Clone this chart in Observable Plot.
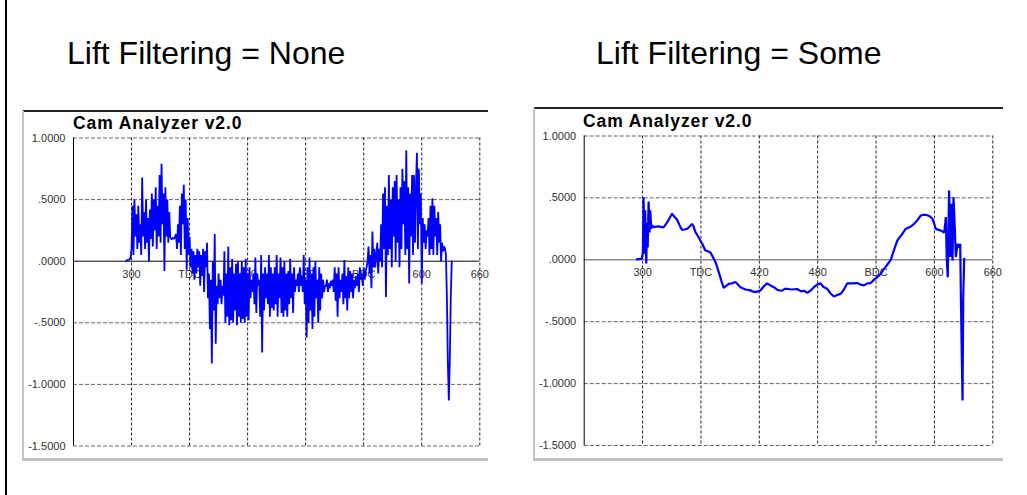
<!DOCTYPE html>
<html>
<head>
<meta charset="utf-8">
<script src="https://cdn.jsdelivr.net/npm/d3@7"></script>
<script src="https://cdn.jsdelivr.net/npm/@observablehq/plot@0.6"></script>
<style>
  html, body { margin: 0; padding: 0; background: #fff; }
  #page { position: relative; width: 1027px; height: 495px; overflow: hidden; background: #fff; font-family: "Liberation Sans", Arial, sans-serif; }
  .edge { position: absolute; left: 5px; top: 0; width: 2px; height: 495px; background: #000; }
  .heading { position: absolute; font-size: 32px; line-height: 32px; color: #000; white-space: nowrap; }
  .frameTop { position: absolute; height: 2px; background: #222; }
  .bevelL { position: absolute; width: 2px; background: #c4c4c4; }
  .bevelB { position: absolute; height: 3px; background: #c0c0c0; }
  .ctitle { position: absolute; font-weight: bold; font-size: 17.5px; line-height: 18px; letter-spacing: 0.9px; color: #000; white-space: nowrap; }
  .chart { position: absolute; }
</style>
</head>
<body>
<div id="page">
  <div class="edge"></div>
  <div class="heading" id="h1" style="left:67px;top:37px;"></div>
  <div class="heading" id="h2" style="left:596px;top:37px;"></div>

  <div class="frameTop" style="left:23px;top:110px;width:465px;"></div>
  <div class="bevelL" style="left:22px;top:111px;height:349px;"></div>
  <div class="bevelB" style="left:22px;top:458px;width:466px;"></div>
  <div class="ctitle" id="t1" style="left:73px;top:114px;"></div>
  <div class="chart" id="c1" style="left:24px;top:112px;"></div>

  <div class="frameTop" style="left:534px;top:107px;width:469px;"></div>
  <div class="bevelL" style="left:533px;top:108px;height:352px;"></div>
  <div class="bevelB" style="left:533px;top:458px;width:470px;"></div>
  <div class="ctitle" id="t2" style="left:583px;top:112px;"></div>
  <div class="chart" id="c2" style="left:535px;top:110px;"></div>
</div>
<script>
// ---- text ----
const headings = ["Lift Filtering = None", "Lift Filtering = Some"];
const chartTitle = "Cam Analyzer v2.0";

// ---- axes ----
const xDomain = [240, 660];
const xGridValues = [300, 360, 420, 480, 540, 600, 660];
const xTickLabels = ["300", "TDC", "420", "480", "BDC", "600", "660"];
const yDomain = [-1.5, 1];
const yTicks = [1, 0.5, 0, -0.5, -1, -1.5];
const yTickLabels = ["1.0000", ".5000", ".0000", "-.5000", "-1.0000", "-1.5000"];
const yDashed = [1, 0.5, -0.5, -1, -1.5];

// ---- unfiltered lift (one sample per crank degree from 294) ----
const rawStart = 294;
const rawLift = [
  0, 0.005, 0.01, 0.01, 0.015, 0.03, 0.10, 0.45, 0.05, 0.50,
  0.20, 0.38, 0.10, 0.45, 0.15, 0.30, 0.05, 0.68, 0.20, 0.40,
  0.10, 0.50, 0.15, 0.35, 0.00, 0.42, 0.18, 0.55, 0.12, 0.50,
  0.25, 0.60, 0.10, 0.45, 0.20, 0.70, 0.15, 0.79, 0.30, 0.55,
  -0.08, 0.60, 0.20, 0.50, 0.15, 0.40, 0.20, 0.18, 0.18, 0.19,
  0.18, 0.20, 0.22, 0.10, 0.30, 0.15, 0.45, 0.05, 0.55, 0.30,
  0.62, 0.10, 0.50, -0.07, 0.35, 0.05, 0.20, -0.05, 0.10, -0.10,
  0.08, -0.15, 0.05, -0.10, 0.10, -0.05, 0.08, -0.20, 0.05, -0.12,
  0.10, -0.25, 0.08, -0.05, 0.15, -0.30, -0.10, -0.55, -0.15, -0.83,
  0.00, -0.40, 0.22, -0.67, -0.20, -0.35, -0.10, -0.30, -0.15, -0.35,
  -0.20, -0.28, 0.08, -0.50, -0.10, -0.45, 0.12, -0.52, -0.05, -0.48,
  0.02, -0.50, -0.10, -0.40, -0.02, -0.52, 0.00, -0.45, -0.10, -0.50,
  0.00, -0.47, -0.05, -0.50, 0.02, -0.45, -0.10, -0.48, -0.05, -0.30,
  -0.15, -0.25, -0.10, -0.35, 0.03, -0.42, -0.10, -0.20, -0.15, -0.45,
  0.05, -0.74, -0.10, -0.40, -0.05, -0.30, -0.10, -0.35, 0.05, -0.45,
  -0.05, -0.38, -0.10, -0.40, -0.05, -0.35, 0.05, -0.45, -0.10, -0.30,
  0.03, -0.42, -0.05, -0.45, 0.00, -0.40, -0.10, -0.45, -0.08, -0.35,
  0.02, -0.30, -0.10, -0.42, -0.05, -0.25, -0.15, -0.20, -0.10, -0.25,
  -0.05, -0.20, -0.12, -0.25, 0.05, -0.35, -0.15, -0.62, -0.05, -0.50,
  0.03, -0.40, -0.10, -0.55, -0.05, -0.45, 0.00, -0.30, -0.15, -0.50,
  -0.05, -0.40, -0.10, -0.30, -0.15, -0.25, -0.20, -0.20, -0.15, -0.25,
  -0.18, -0.22, -0.16, -0.20, -0.15, -0.25, -0.05, -0.32, -0.10, -0.45,
  -0.05, -0.30, -0.15, -0.25, -0.10, -0.35, 0.01, -0.30, -0.12, -0.40,
  -0.05, -0.30, -0.08, -0.25, -0.10, -0.30, -0.15, -0.22, -0.12, -0.20,
  -0.10, -0.25, -0.05, -0.15, -0.10, -0.20, -0.05, -0.15, -0.08, -0.05,
  0.00, 0.12, -0.10, 0.05, -0.22, 0.24, -0.05, 0.10, -0.05, 0.05,
  0.15, -0.10, 0.10, 0.00, 0.30, -0.05, 0.55, 0.10, 0.60, -0.29,
  0.45, 0.05, 0.70, 0.10, 0.50, -0.05, 0.60, 0.20, 0.65, 0.00,
  0.70, 0.15, 0.50, -0.05, 0.60, 0.10, 0.75, 0.30, 0.65, 0.05,
  0.90, 0.10, 0.60, -0.18, 0.55, 0.20, 0.70, 0.05, 0.70, 0.15,
  0.60, 0.88, 0.10, 0.75, 0.30, 0.55, -0.18, 0.35, 0.15, 0.30,
  0.10, 0.25, 0.20, 0.35, 0.05, 0.45, 0.10, 0.51, 0.05, 0.45,
  0.20, 0.35, 0.05, 0.40, 0.15, 0.30, 0.00, 0.15, 0.08, 0.12,
  0.10, 0.05, -0.30, -0.83, -1.13, -0.80, -0.29, 0.00
];

// ---- filtered lift ----
const smoothAngles = [
  294.2, 299.3, 300.3, 301.0, 302.0, 302.7, 303.8, 304.5, 305.3, 306.2,
  307.2, 307.9, 308.9, 309.6, 311.3, 316, 321.6, 325.1, 328, 330.2,
  332.5, 335.4, 338, 340.5, 343, 345.7, 348, 350.8, 352.5, 354.2,
  357, 359.4, 362, 364.5, 367, 369.7, 373.1, 375.5, 378.3, 381,
  383.4, 386, 388.6, 392, 395.4, 398, 400.6, 403, 405.7, 410,
  413, 416, 418.5, 421.2, 424, 428, 431, 434.9, 439, 443.5,
  446, 448.6, 453, 458.9, 463, 466, 469.2, 472.5, 476.1, 479.5,
  483, 486, 489.8, 493, 496.7, 500, 503.6, 507, 510.4, 515,
  520.7, 524, 527.6, 531, 534.5, 538, 541.3, 545, 548.2, 551.5,
  555.1, 558.5, 561.9, 566, 570.5, 575, 579.1, 582.5, 586, 589.5,
  592.8, 595.5, 598, 599.8, 601.4, 605, 608, 610, 611.2, 611.7,
  612.7, 613.7, 614.5, 615.1, 616.2, 617.5, 618.6, 619.6, 621, 622,
  623.7, 625.4, 626.5, 627.2, 628.2, 628.9, 629.6, 630.6
];
const smoothLift = [
  0.003, 0.01, 0.06, 0.506, 0.05, 0.40, -0.03, 0.30, 0.10, 0.47,
  0.22, 0.40, 0.25, 0.28, 0.264, 0.27, 0.262, 0.30, 0.34, 0.372,
  0.35, 0.325, 0.28, 0.242, 0.245, 0.25, 0.265, 0.29, 0.27, 0.225,
  0.19, 0.156, 0.12, 0.075, 0.07, 0.06, 0.01, -0.03, -0.10, -0.17,
  -0.226, -0.21, -0.194, -0.19, -0.18, -0.20, -0.221, -0.23, -0.24, -0.245,
  -0.255, -0.261, -0.255, -0.248, -0.22, -0.19, -0.205, -0.221, -0.245, -0.25,
  -0.235, -0.234, -0.24, -0.236, -0.255, -0.25, -0.267, -0.25, -0.221, -0.20,
  -0.19, -0.22, -0.234, -0.27, -0.296, -0.285, -0.275, -0.24, -0.19, -0.19,
  -0.188, -0.20, -0.207, -0.19, -0.188, -0.16, -0.14, -0.11, -0.073, -0.04,
  0, 0.08, 0.156, 0.20, 0.25, 0.265, 0.291, 0.32, 0.358, 0.365,
  0.36, 0.35, 0.331, 0.29, 0.25, 0.24, 0.23, 0.22, 0.30, 0.345,
  0.0, -0.14, 0.30, 0.56, 0.022, 0.452, -0.005, 0.506, 0.24, 0.022,
  0.129, 0.10, 0.129, -0.30, -0.813, -1.136, -0.30, 0.008
];

// ---- build tables ----
const rawData = rawLift.map((v, i) => ({angle: rawStart + i, lift: v}));
const smoothData = smoothAngles.map((a, i) => ({angle: a, lift: smoothLift[i]}));
const xLabelRows = xGridValues.map((v, i) => ({angle: v, label: xTickLabels[i]}));
const yLabelMap = new Map(yTicks.map((v, i) => [v, yTickLabels[i]]));

document.getElementById("h1").textContent = headings[0];
document.getElementById("h2").textContent = headings[1];
document.getElementById("t1").textContent = chartTitle;
document.getElementById("t2").textContent = chartTitle;

function makeChart(data, opts) {
  return Plot.plot({
    width: opts.width,
    height: opts.height,
    marginLeft: opts.ml,
    marginRight: opts.mr,
    marginTop: opts.mt,
    marginBottom: opts.mb,
    x: {domain: xDomain, axis: null},
    y: {domain: yDomain, axis: null},
    style: {background: "transparent", fontFamily: "'Liberation Sans', Arial, sans-serif", color: "#333", overflow: "visible"},
    marks: [
      Plot.text(xLabelRows, {x: "angle", y: () => 0, text: "label", dy: 13, fontSize: 11, fill: "#333"}),
      Plot.ruleY(yDashed, {stroke: "#666", strokeDasharray: "4,2"}),
      Plot.ruleX(xGridValues, {stroke: "#222", strokeDasharray: "3,2"}),
      Plot.ruleY([0], {stroke: opts.zeroColor}),
      Plot.ruleX([xDomain[0]], {stroke: "#000"}),
      Plot.axisY(yTicks, {label: null, tickSize: 0, tickPadding: 8, fontSize: 11, tickFormat: d => yLabelMap.get(d), fill: "#333"}),
      Plot.line(data, {x: "angle", y: "lift", stroke: "#0000ff", strokeWidth: opts.lw, strokeLinejoin: "miter"})
    ]
  });
}

document.getElementById("c1").append(makeChart(rawData, {width: 464, height: 346, ml: 49, mr: 8.7, mt: 25.5, mb: 12.5, zeroColor: "#000", lw: 1.8}));
document.getElementById("c2").append(makeChart(smoothData, {width: 468, height: 349, ml: 48.7, mr: 10.7, mt: 25.5, mb: 14, zeroColor: "#555", lw: 2.2}));
</script>
</body>
</html>
